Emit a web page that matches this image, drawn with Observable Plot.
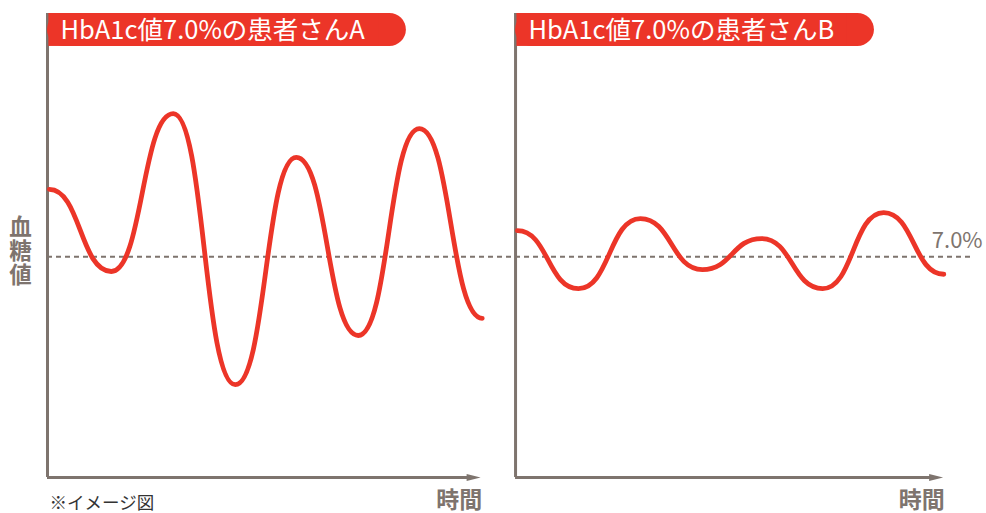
<!DOCTYPE html>
<html>
<head>
<meta charset="utf-8">
<script src="https://cdn.jsdelivr.net/npm/d3@7"></script>
<script src="https://cdn.jsdelivr.net/npm/@observablehq/plot@0.6"></script>
<style>
  html, body { margin: 0; padding: 0; background: #fff; }
  #chart svg { display: block; }
</style>
</head>
<body>
<div id="chart"></div>
<script>
// ---- data (arbitrary units) ----
const patients = ["A", "B"];
const titles = ["HbA1c値7.0%の患者さんA", "HbA1c値7.0%の患者さんB"];
const timeA = [0.2, 6.9, 13.6, 20.3, 26.9, 33.6, 40.2, 47.0];
const glucoseA = [62.1, 44.4, 78.4, 20.0, 69.0, 30.6, 75.2, 34.3];
const timeB = [0.2, 6.8, 13.5, 20.2, 26.6, 33.2, 39.8, 46.3];
const glucoseB = [53.2, 40.7, 55.8, 44.8, 51.5, 40.7, 57.1, 43.8];
const targetLevel = 47.6;
const targetLabel = "7.0%";
const yLabel = "血糖値";
const xLabel = "時間";
const note = "※イメージ図";

// ---- layout constants ----
const RED = "#ec3528";
const GRAY = "#7e746e";
const panelStart = [0, 50.6];
const axisLen = [46.8, 46.2];
const yTop = 100;
const badgeLen = 38.8;
const badgeH = 7.1;

const series = [];
[[timeA, glucoseA], [timeB, glucoseB]].forEach(([t, g], i) => {
  t.forEach((tv, j) => series.push({patient: patients[i], x: panelStart[i] + tv, y: g[j]}));
});
const panels = patients.map((p, i) => ({patient: p, title: titles[i], x0: panelStart[i], len: axisLen[i]}));

const arrowHead = {
  draw(ctx, size) {
    const r = Math.sqrt(size / Math.PI);
    ctx.moveTo(r * 0.6, 0);
    ctx.lineTo(-r * 2.2, -r * 0.7);
    ctx.lineTo(-r * 2.2, r * 0.7);
    ctx.closePath();
  }
};

const chart = Plot.plot({
  width: 986,
  height: 513,
  marginLeft: 47,
  marginRight: 14,
  marginTop: 13,
  marginBottom: 36,
  x: {domain: [0, 100], axis: null},
  y: {domain: [0, yTop], axis: null},
  style: {fontFamily: "'Noto Sans CJK JP', 'Noto Sans', sans-serif", background: "white", overflow: "visible"},
  marks: [
    // target dashed line
    Plot.ruleY([{y: targetLevel}], {y: "y", x1: () => 0, x2: () => 100, stroke: GRAY, strokeWidth: 2, strokeDasharray: "5,4"}),
    Plot.text([{y: targetLevel, label: targetLabel}], {x: () => 95.6, y: "y", text: "label", dy: -16, textAnchor: "start", fill: GRAY, fontSize: 22}),
    // axes
    Plot.ruleX(panels, {x: "x0", y1: () => 0, y2: () => yTop, stroke: GRAY, strokeWidth: 3}),
    Plot.ruleY(panels, {y: () => 0, x1: "x0", x2: d => d.x0 + d.len - 0.8, stroke: GRAY, strokeWidth: 3}),
    Plot.dot(panels, {x: d => d.x0 + d.len - 0.3, y: () => 0, symbol: arrowHead, r: 5, fill: GRAY, stroke: "none"}),
    // curves
    Plot.line(series, {x: "x", y: "y", z: "patient", curve: "bump-x", stroke: RED, strokeWidth: 4.8, strokeLinecap: "round"}),
    // title badges
    Plot.rect(panels, {x1: "x0", x2: d => d.x0 + badgeLen, y1: () => yTop - badgeH, y2: () => yTop, fill: RED, rx: 16.5}),
    Plot.rect(panels, {x1: d => d.x0 + 0.15, x2: d => d.x0 + badgeLen - 3, y1: () => yTop - badgeH, y2: () => yTop, fill: RED}),
    Plot.text(panels, {x: "x0", y: () => yTop - badgeH / 2, text: "title", dx: 13, textAnchor: "start", fill: "white", fontSize: 25.5, dy: 1}),
    // axis labels
    Plot.text(panels, {x: d => d.x0 + d.len + 0.2, y: () => 0, text: () => xLabel, dy: 23, textAnchor: "end", fill: GRAY, fontSize: 23, fontWeight: "bold"}),
    Plot.text([yLabel], {frameAnchor: "left", y: () => 50.3, text: d => d, dx: -27, textAnchor: "middle", fill: GRAY, fontSize: 22.5, fontWeight: "bold"}),
    Plot.text([note], {x: () => 0, y: () => 0, text: d => d, dy: 26, dx: 2, textAnchor: "start", fill: "#333", fontSize: 17.5})
  ]
});
// render the y label vertically (tategaki)
d3.select(chart).selectAll("text").filter(function() { return this.textContent === yLabel; })
  .style("writing-mode", "vertical-rl")
  .style("letter-spacing", "1.5px")
  .attr("dy", null);
document.getElementById("chart").appendChild(chart);
</script>
</body>
</html>
